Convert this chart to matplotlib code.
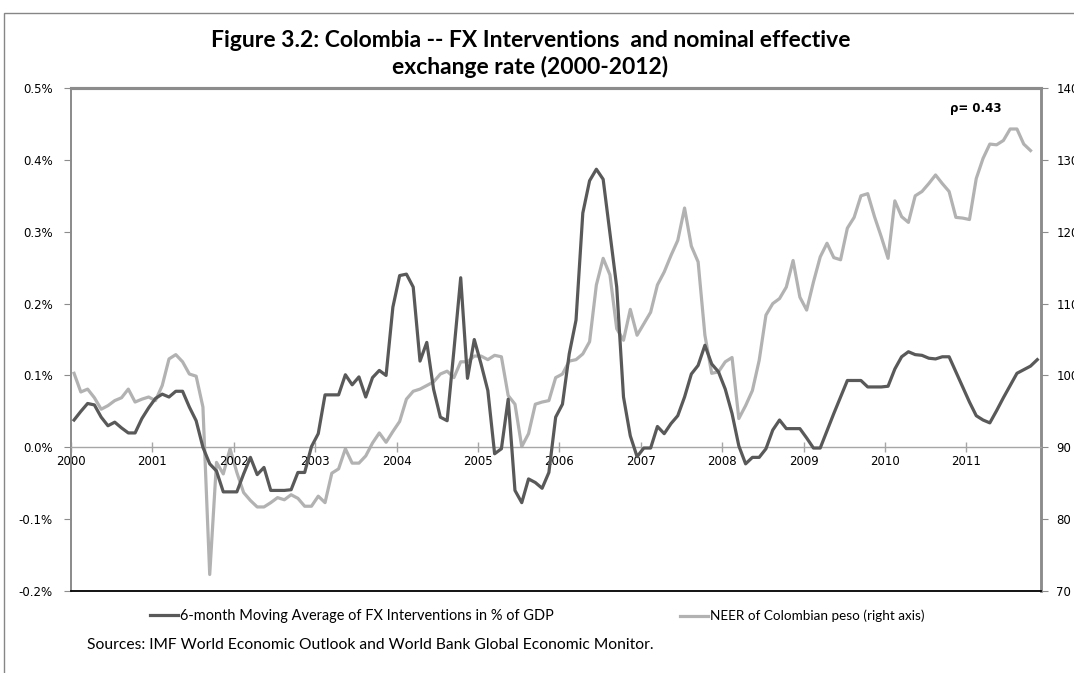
import numpy as np
import matplotlib.pyplot as plt
from matplotlib.patches import Rectangle
from matplotlib.ticker import FuncFormatter

# 6-month moving average of FX interventions, % of GDP (monthly, Jan 2000 - Nov 2011)
fx_interv = [
    0.038, 0.050, 0.061, 0.059, 0.042, 0.030, 0.035, 0.027, 0.020, 0.020,
    0.040, 0.055, 0.068, 0.074, 0.070, 0.078, 0.078, 0.056, 0.037, 0.000,
    -0.023, -0.033, -0.062, -0.062, -0.062, -0.037, -0.014, -0.038, -0.028, -0.060,
    -0.060, -0.060, -0.059, -0.035, -0.035, 0.001, 0.019, 0.073, 0.073, 0.073,
    0.101, 0.087, 0.098, 0.070, 0.097, 0.107, 0.100, 0.195, 0.239, 0.241,
    0.223, 0.120, 0.146, 0.081, 0.042, 0.037, 0.135, 0.236, 0.096, 0.150,
    0.116, 0.079, -0.009, -0.002, 0.067, -0.060, -0.077, -0.044, -0.049, -0.057,
    -0.035, 0.042, 0.060, 0.130, 0.177, 0.326, 0.371, 0.387, 0.373, 0.298,
    0.223, 0.070, 0.016, -0.013, -0.001, -0.001, 0.029, 0.019, 0.033, 0.044,
    0.070, 0.102, 0.114, 0.142, 0.116, 0.105, 0.081, 0.047, 0.002, -0.023,
    -0.014, -0.014, -0.002, 0.024, 0.038, 0.026, 0.026, 0.026, 0.013, -0.001,
    -0.001, 0.023, 0.047, 0.070, 0.093, 0.093, 0.093, 0.084, 0.084, 0.084,
    0.085, 0.109, 0.126, 0.133, 0.129, 0.128, 0.124, 0.123, 0.126, 0.126,
    0.105, 0.084, 0.063, 0.044, 0.038, 0.034, 0.051, 0.069, 0.086, 0.103,
    0.108, 0.113, 0.122,
]

# NEER of the Colombian peso (monthly, Jan 2000 - Oct 2011)
neer = [
    100.3, 97.7, 98.1, 96.9, 95.3, 95.8, 96.5, 96.9, 98.1, 96.3,
    96.7, 97.0, 96.5, 98.6, 102.3, 102.9, 101.9, 100.2, 99.9, 95.6,
    72.3, 87.9, 86.3, 89.8, 86.5, 83.7, 82.6, 81.7, 81.7, 82.3,
    83.0, 82.7, 83.4, 82.9, 81.8, 81.8, 83.2, 82.3, 86.4, 87.0,
    89.8, 87.8, 87.8, 88.8, 90.6, 92.0, 90.7, 92.2, 93.6, 96.7,
    97.8, 98.1, 98.6, 99.1, 100.2, 100.6, 99.7, 101.9, 101.9, 102.7,
    102.7, 102.2, 102.8, 102.6, 97.2, 96.0, 90.1, 91.9, 96.0, 96.3,
    96.5, 99.7, 100.2, 102.0, 102.2, 103.0, 104.7, 112.6, 116.3, 114.0,
    106.5, 104.9, 109.2, 105.6, 107.2, 108.8, 112.6, 114.4, 116.7, 118.8,
    123.3, 118.0, 115.8, 105.6, 100.3, 100.5, 101.9, 102.5, 94.0, 95.8,
    97.9, 102.1, 108.4, 110.0, 110.7, 112.3, 116.0, 110.9, 109.1, 113.0,
    116.5, 118.4, 116.4, 116.1, 120.5, 122.0, 125.0, 125.3, 122.1, 119.3,
    116.3, 124.3, 122.1, 121.3, 125.0, 125.6, 126.7, 127.9, 126.7, 125.6,
    122.0, 121.9, 121.7, 127.4, 130.2, 132.2, 132.1, 132.7, 134.3, 134.3,
    132.2, 131.3,
]

years = list(range(2000, 2012))
left_ticks = [-0.2, -0.1, 0.0, 0.1, 0.2, 0.3, 0.4, 0.5]
right_ticks = [70, 80, 90, 100, 110, 120, 130, 140]
labels = ['6-month Moving Average of FX Interventions in % of GDP',
          'NEER of Colombian peso (right axis)']

# mid-month positions in fractional years
x_fx = 2000 + (np.arange(len(fx_interv)) + 0.45) / 12
x_neer = 2000 + (np.arange(len(neer)) + 0.45) / 12

dark = '#595959'
light = '#b2b2b2'
grey = '#8c8c8c'

fig = plt.figure(figsize=(10.74, 6.73), dpi=100)
ax = fig.add_axes([0.0661, 0.1218, 0.9032, 0.7474])
ax2 = ax.twinx()
W, H = 1074, 673

# outer chart frame (cropped at right and bottom)
fig.patches.append(Rectangle((4 / W, -0.1), 1.2, 1 - 13 / H + 0.1,
                             transform=fig.transFigure, fill=False,
                             edgecolor='#868686', lw=1.0))

l1, = ax.plot(x_fx, fx_interv, color=dark, lw=2.3, zorder=3)
l2, = ax2.plot(x_neer, neer, color=light, lw=2.3, zorder=2)
ax.set_zorder(ax2.get_zorder() + 1)
ax.patch.set_visible(False)

ax.set_xlim(2000, 2000 + 143 / 12)
ax.set_ylim(-0.2, 0.5)
ax2.set_ylim(70, 140)

ax.set_yticks(left_ticks)
ax.yaxis.set_major_formatter(FuncFormatter(lambda v, p: f'{v:.1f}%'))
ax2.set_yticks(right_ticks)

# x axis crosses at 0.0%
ax.spines['bottom'].set_position(('data', 0))
ax.spines['bottom'].set_color('#a6a6a6')
ax.spines['bottom'].set_linewidth(1.0)
ax.set_xticks(years)
ax.set_xticklabels([str(y) for y in years])
ax.tick_params(axis='x', direction='inout', length=7, width=1, color='#a6a6a6',
               labelsize=8.5, pad=2)
ax.axhline(-0.2, color='black', lw=1.3, clip_on=False, zorder=4)

for a in (ax, ax2):
    for s in ('top', 'left', 'right'):
        a.spines[s].set_color(grey)
    a.spines['top'].set_linewidth(2.2)
    a.spines['left'].set_linewidth(1.3)
    a.spines['right'].set_linewidth(1.8)
ax2.spines['bottom'].set_visible(False)

ax.tick_params(axis='y', direction='out', length=5, color=grey, labelsize=8.5, pad=8)
ax2.tick_params(axis='y', direction='out', length=5, color=grey, labelsize=8.5, pad=6)

ax.text(0.906, 0.96, 'ρ= 0.43', transform=ax.transAxes, fontsize=8.5,
        fontweight='bold', ha='left', va='center')

fig.text(0.494, 1 - 54 / H,
         'Figure 3.2: Colombia -- FX Interventions  and nominal effective\nexchange rate (2000-2012)',
         ha='center', va='center', fontsize=16.5, fontweight='bold',
         family='Lato', linespacing=1.25)

renderer = fig.canvas.get_renderer()


def fit_size(txt, size, target_px):
    # scale the font so the text spans about target_px pixels
    t = fig.text(0, 0, txt, fontsize=size, family='Lato')
    w = t.get_window_extent(renderer).width
    t.remove()
    return size * target_px / w


# legend: two entries, sample line then label, placed like the original
entries = [(l1, labels[0], 150, 372), (l2, labels[1], 680, 214)]
for handle, lab, x0, width in entries:
    fs = fit_size(lab, 10, width)
    fig.legend([handle], [lab], loc='center left',
               bbox_to_anchor=(x0 / W, 1 - 616 / H), frameon=False,
               borderpad=0, borderaxespad=0,
               handlelength=28 / (fs * 100 / 72), handletextpad=0.15,
               prop={'family': 'Lato', 'size': fs})

src = 'Sources: IMF World Economic Outlook and World Bank Global Economic Monitor.'
fig.text(87 / W, 1 - 645 / H, src, ha='left', va='center',
         fontsize=fit_size(src, 10, 568), family='Lato')

fig.savefig('out.png', dpi=100)
